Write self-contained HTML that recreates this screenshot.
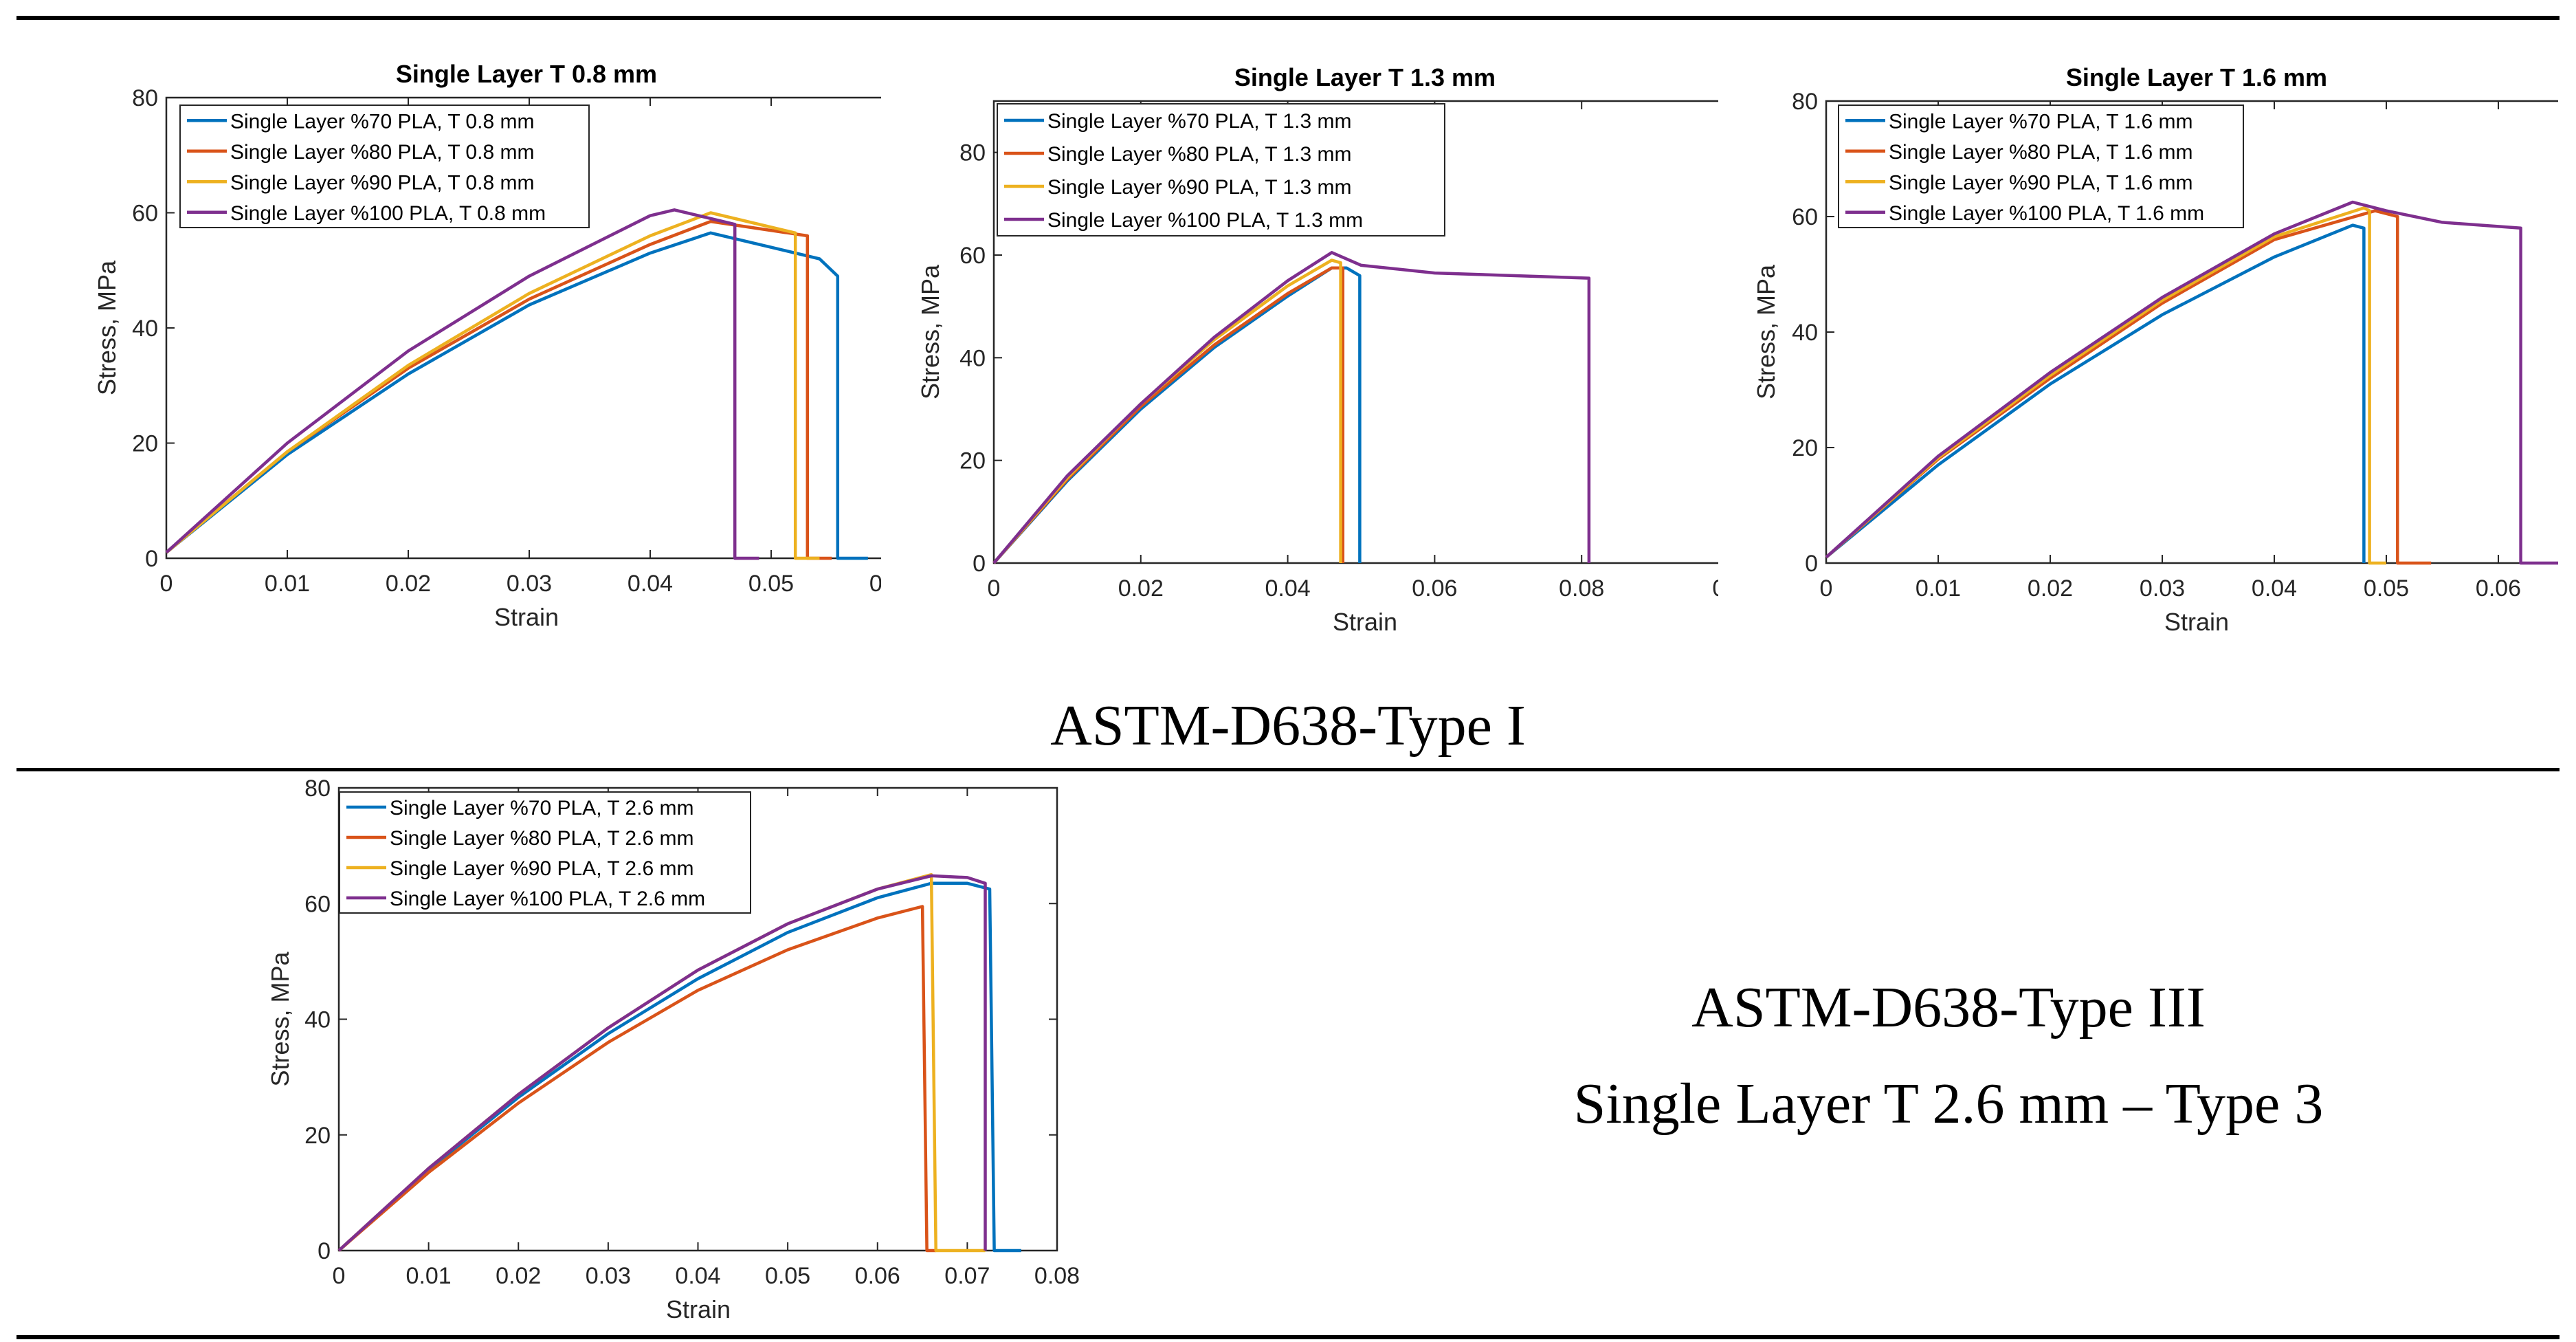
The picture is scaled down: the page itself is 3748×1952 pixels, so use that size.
<!DOCTYPE html>
<html><head><meta charset="utf-8">
<style>
html,body{margin:0;padding:0;background:#fff;}
svg{display:block;}
text{font-family:"Liberation Sans",sans-serif;}
.cap{font-family:"Liberation Serif",serif;font-size:84px;fill:#000;}
</style></head>
<body>
<svg id="fig" width="3748" height="1952" viewBox="0 0 3748 1952" xmlns="http://www.w3.org/2000/svg">
<rect x="24" y="23" width="3700" height="6" fill="#000"/>
<rect x="24" y="1117" width="3700" height="5" fill="#000"/>
<rect x="24" y="1942" width="3700" height="6" fill="#000"/>
<text class="cap" x="1874" y="1083" text-anchor="middle">ASTM-D638-Type I</text>
<text class="cap" x="2835" y="1493" text-anchor="middle">ASTM-D638-Type III</text>
<text class="cap" x="2835" y="1633" text-anchor="middle">Single Layer T 2.6 mm – Type 3</text>
</svg>
<script>
const colors = ["#0072BD","#D95319","#EDB120","#7E2F8E"];
const pcts = ["%70","%80","%90","%100"];

// Chart 1: T 0.8 mm
const c1_x70 = [0,0.01,0.02,0.03,0.04,0.045,0.05,0.054,0.0555,0.0555,0.058];
const c1_y70 = [1,18,32,44,53,56.5,54,52,49,0,0];
const c1_x80 = [0,0.01,0.02,0.03,0.04,0.045,0.053,0.053,0.055];
const c1_y80 = [1,18.5,33,45,54.5,58.5,56,0,0];
const c1_x90 = [0,0.01,0.02,0.03,0.04,0.045,0.052,0.052,0.054];
const c1_y90 = [1,18.5,33.5,46,56,60,56.5,0,0];
const c1_x100 = [0,0.01,0.02,0.03,0.04,0.042,0.047,0.047,0.049];
const c1_y100 = [1,20,36,49,59.5,60.5,58,0,0];
const c1_xticks = [0,0.01,0.02,0.03,0.04,0.05,0.06];
const c1_xlabels = ["0","0.01","0.02","0.03","0.04","0.05","0.06"];
const c1_yticks = [0,20,40,60,80];

// Chart 2: T 1.3 mm
const c2_x70 = [0,0.01,0.02,0.03,0.04,0.046,0.048,0.0498,0.0498];
const c2_y70 = [0,16,30,42,52,57.5,57.5,56,0];
const c2_x80 = [0,0.01,0.02,0.03,0.04,0.046,0.0475,0.0475];
const c2_y80 = [0,16.3,30.5,42.5,52.5,57.5,57.5,0];
const c2_x90 = [0,0.01,0.02,0.03,0.04,0.046,0.0472,0.0472];
const c2_y90 = [0,16.6,31,43.5,54,59,58.5,0];
const c2_x100 = [0,0.01,0.02,0.03,0.04,0.046,0.05,0.06,0.081,0.081];
const c2_y100 = [0,17,31,44,55,60.5,58,56.5,55.5,0];
const c2_xticks = [0,0.02,0.04,0.06,0.08,0.1];
const c2_xlabels = ["0","0.02","0.04","0.06","0.08","0.1"];
const c2_yticks = [0,20,40,60,80];

// Chart 3: T 1.6 mm
const c3_x70 = [0,0.01,0.02,0.03,0.04,0.047,0.048,0.048];
const c3_y70 = [1,17,31,43,53,58.5,58,0];
const c3_x80 = [0,0.01,0.02,0.03,0.04,0.049,0.051,0.051,0.054];
const c3_y80 = [1,18,32,45,56,61,60,0,0];
const c3_x90 = [0,0.01,0.02,0.03,0.04,0.048,0.0485,0.0485,0.05];
const c3_y90 = [1,18.2,32.5,45.5,56.5,61.5,61,0,0];
const c3_x100 = [0,0.01,0.02,0.03,0.04,0.047,0.05,0.055,0.062,0.062,0.066];
const c3_y100 = [1,18.5,33,46,57,62.5,61,59,58,0,0];
const c3_xticks = [0,0.01,0.02,0.03,0.04,0.05,0.06,0.07];
const c3_xlabels = ["0","0.01","0.02","0.03","0.04","0.05","0.06","0.07"];
const c3_yticks = [0,20,40,60,80];

// Chart 4: T 2.6 mm
const c4_x70 = [0,0.01,0.02,0.03,0.04,0.05,0.06,0.066,0.07,0.0725,0.073,0.076];
const c4_y70 = [0,14,26.5,37.5,47,55,61,63.5,63.5,62.5,0,0];
const c4_x80 = [0,0.01,0.02,0.03,0.04,0.05,0.06,0.065,0.0655,0.0665];
const c4_y80 = [0,13.5,25.5,36,45,52,57.5,59.5,0,0];
const c4_x90 = [0,0.01,0.02,0.03,0.04,0.05,0.06,0.066,0.0665,0.072];
const c4_y90 = [0,14.2,27,38.5,48.5,56.5,62.5,65,0,0];
const c4_x100 = [0,0.01,0.02,0.03,0.04,0.05,0.06,0.066,0.07,0.072,0.072];
const c4_y100 = [0,14.2,27,38.5,48.5,56.5,62.5,64.8,64.5,63.5,0];
const c4_xticks = [0,0.01,0.02,0.03,0.04,0.05,0.06,0.07,0.08];
const c4_xlabels = ["0","0.01","0.02","0.03","0.04","0.05","0.06","0.07","0.08"];
const c4_yticks = [0,20,40,60,80];

const NS = "http://www.w3.org/2000/svg";
const fig = document.getElementById("fig");
function mk(tag, attrs, parent){
  const e = document.createElementNS(NS, tag);
  for (const k in attrs) e.setAttribute(k, attrs[k]);
  (parent||fig).appendChild(e);
  return e;
}

function chart(cfg){
  const g = mk("g", {});
  
  
  const clip = mk("clipPath", {id: cfg.id + "-clip"}, g);
  mk("rect", {x: 0, y: 0, width: cfg.clipR, height: 1952}, clip);
  const inner = mk("g", {"clip-path": "url(#" + cfg.id + "-clip)"}, g);
  const X = v => cfg.x0 + v / cfg.xmax * (cfg.x1 - cfg.x0);
  const Y = v => cfg.y0 - v / cfg.ymax * (cfg.y0 - cfg.y1);
  const box = mk("rect", {x: cfg.x0, y: cfg.y1, width: cfg.x1 - cfg.x0, height: cfg.y0 - cfg.y1, fill: "#fff", stroke: "#262626", "stroke-width": 2.5}, inner);
  
  
  cfg.xticks.forEach((t, i) => {
    const px = X(t);
    mk("line", {x1: px, x2: px, y1: cfg.y0, y2: cfg.y0 - 12, stroke: "#262626", "stroke-width": 2}, inner);
    mk("line", {x1: px, x2: px, y1: cfg.y1, y2: cfg.y1 + 12, stroke: "#262626", "stroke-width": 2}, inner);
    const tx = mk("text", {x: px, y: cfg.y0 + 48, "text-anchor": "middle", "font-size": 34, fill: "#262626"}, inner);
    
    
    tx.textContent = cfg.xlabels[i];
  });
  cfg.yticks.forEach(t => {
    const py = Y(t);
    mk("line", {x1: cfg.x0, x2: cfg.x0 + 12, y1: py, y2: py, stroke: "#262626", "stroke-width": 2}, inner);
    mk("line", {x1: cfg.x1, x2: cfg.x1 - 12, y1: py, y2: py, stroke: "#262626", "stroke-width": 2}, inner);
    const tx = mk("text", {x: cfg.x0 - 12, y: py + 12, "text-anchor": "end", "font-size": 34, fill: "#262626"}, inner);
    
    
    tx.textContent = String(t);
  });
  cfg.series.forEach((s, i) => {
    const d = s.x.map((v, j) => (j ? "L" : "M") + X(v).toFixed(1) + " " + Y(s.y[j]).toFixed(1)).join(" ");
    const p = mk("path", {d: d, fill: "none", stroke: colors[i], "stroke-width": 4.5, "stroke-linejoin": "round"}, inner);
    
    
  });
  const L = cfg.legend;
  const lg = mk("g", {}, inner);
  
  
  mk("rect", {x: L.x, y: L.y, width: L.w, height: L.h, fill: "#fff", stroke: "#262626", "stroke-width": 2}, lg);
  const rowH = L.h / 4;
  pcts.forEach((p, i) => {
    const cy = L.y + rowH * (i + 0.5);
    mk("line", {x1: L.x + 10, x2: L.x + 68, y1: cy, y2: cy, stroke: colors[i], "stroke-width": 4.5}, lg);
    const t = mk("text", {x: L.x + 73, y: cy + 11, "font-size": 30, fill: "#000"}, lg);
    
    
    t.textContent = "Single Layer " + p + " PLA, T " + cfg.t + " mm";
  });
  if (cfg.title) {
    const tt = mk("text", {x: cfg.titleX, y: cfg.y1 - 22, "text-anchor": "middle", "font-size": 36, "font-weight": "bold", fill: "#000"}, g);
    
    
    tt.textContent = cfg.title;
  }
  const xl = mk("text", {x: cfg.xlabX, y: cfg.y0 + 98, "text-anchor": "middle", "font-size": 36, fill: "#262626"}, g);
  
  
  xl.textContent = "Strain";
  const yl = mk("text", {x: 0, y: 0, "text-anchor": "middle", "font-size": 36, fill: "#262626", transform: "translate(" + cfg.ylabX + "," + (cfg.y0 + cfg.y1) / 2 + ") rotate(-90)"}, g);
  
  
  yl.textContent = "Stress, MPa";
}

chart({id: "chart-t08", title: "Single Layer T 0.8 mm", t: "0.8", x0: 242, x1: 1298, y0: 812, y1: 142, xmax: 0.06, ymax: 80, clipR: 1282, titleX: 766,
  xticks: c1_xticks, xlabels: c1_xlabels, yticks: c1_yticks, xlabX: 766, ylabX: 168,
  legend: {x: 262, y: 153, w: 595, h: 178},
  series: [{x: c1_x70, y: c1_y70}, {x: c1_x80, y: c1_y80}, {x: c1_x90, y: c1_y90}, {x: c1_x100, y: c1_y100}]});
chart({id: "chart-t13", title: "Single Layer T 1.3 mm", t: "1.3", x0: 1446, x1: 2515, y0: 819, y1: 147, xmax: 0.1, ymax: 90, clipR: 2500, titleX: 1986,
  xticks: c2_xticks, xlabels: c2_xlabels, yticks: c2_yticks, xlabX: 1986, ylabX: 1366,
  legend: {x: 1451, y: 151, w: 651, h: 192},
  series: [{x: c2_x70, y: c2_y70}, {x: c2_x80, y: c2_y80}, {x: c2_x90, y: c2_y90}, {x: c2_x100, y: c2_y100}]});
chart({id: "chart-t16", title: "Single Layer T 1.6 mm", t: "1.6", x0: 2657, x1: 3798, y0: 819, y1: 147, xmax: 0.07, ymax: 80, clipR: 3722, titleX: 3196,
  xticks: c3_xticks, xlabels: c3_xlabels, yticks: c3_yticks, xlabX: 3196, ylabX: 2582,
  legend: {x: 2675, y: 153, w: 589, h: 178},
  series: [{x: c3_x70, y: c3_y70}, {x: c3_x80, y: c3_y80}, {x: c3_x90, y: c3_y90}, {x: c3_x100, y: c3_y100}]});
chart({id: "chart-t26", title: "", t: "2.6", x0: 493, x1: 1538, y0: 1819, y1: 1146, xmax: 0.08, ymax: 80, clipR: 1600, titleX: 1016,
  xticks: c4_xticks, xlabels: c4_xlabels, yticks: c4_yticks, xlabX: 1016, ylabX: 420,
  legend: {x: 494, y: 1152, w: 598, h: 176},
  series: [{x: c4_x70, y: c4_y70}, {x: c4_x80, y: c4_y80}, {x: c4_x90, y: c4_y90}, {x: c4_x100, y: c4_y100}]});
</script>
</body></html>
